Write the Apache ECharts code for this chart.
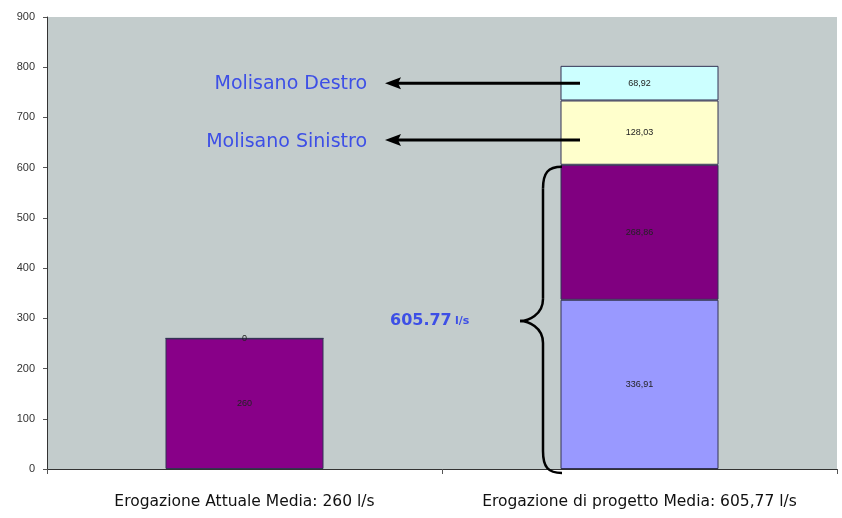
<!DOCTYPE html>
<html>
<head>
<meta charset="utf-8">
<script src="https://cdn.jsdelivr.net/npm/echarts@6/dist/echarts.min.js"></script>
<style>html,body{margin:0;padding:0;background:#fff}#c{width:842px;height:518px}</style>
</head>
<body>
<div id="c"></div>
<script>
var categories = ['Erogazione Attuale Media: 260 l/s', 'Erogazione di progetto Media: 605,77 l/s'];
var baseValues = [260, 336.91];
var secondValues = [0, 268.86];
var sinistroValues = [null, 128.03];
var destroValues = [null, 68.92];
var yTicks = [0, 100, 200, 300, 400, 500, 600, 700, 800, 900];

var baseColors = ['#880088', '#9999ff'];
var secondColors = ['#880088', '#800080'];

function mk(vals, colors) {
  return vals.map(function (v, i) {
    return { value: v === null ? '-' : v, itemStyle: { color: colors[i] } };
  });
}
var labelStyle = { show: true, position: 'inside', fontSize: 9, color: '#222', fontFamily: 'Liberation Sans', formatter: function (p) { return p.value === '-' ? '' : String(p.value).replace('.', ','); } };
var border = { borderColor: '#333355', borderWidth: 1 };

var chart = echarts.init(document.getElementById('c'));
chart.setOption({
  animation: false,
  backgroundColor: '#fff',
  grid: { left: 47, right: 5, top: 17, bottom: 49, show: true, backgroundColor: '#c3cccc', borderWidth: 0 },
  xAxis: {
    type: 'category', data: categories,
    axisLine: { lineStyle: { color: '#333', width: 1 } },
    axisTick: { show: true, interval: 0, alignWithLabel: false, length: 5, lineStyle: { color: '#555' } },
    axisLabel: { interval: 0, hideOverlap: false, fontSize: 15.5, color: '#111', fontFamily: 'DejaVu Sans', margin: 25 }
  },
  yAxis: {
    type: 'value', min: yTicks[0], max: yTicks[yTicks.length - 1], interval: 100,
    axisLine: { show: true, lineStyle: { color: '#333' } },
    axisTick: { show: true, length: 4, lineStyle: { color: '#555' } },
    splitLine: { show: false },
    axisLabel: { fontSize: 11, color: '#333', fontFamily: 'Liberation Sans', margin: 12 }
  },
  series: [
    { type: 'bar', stack: 't', barWidth: '40%', data: mk(baseValues, baseColors), itemStyle: border, label: labelStyle },
    { type: 'bar', stack: 't', data: mk(secondValues, secondColors), itemStyle: border, label: labelStyle },
    { type: 'bar', stack: 't', data: mk(sinistroValues, ['#ffffcc', '#ffffcc']), itemStyle: border, label: labelStyle },
    { type: 'bar', stack: 't', data: mk(destroValues, ['#ccffff', '#ccffff']), itemStyle: border, label: labelStyle }
  ]
});

// annotations anchored on the axis scale
var total = baseValues[1] + secondValues[1];
var yDestro = chart.convertToPixel({ yAxisIndex: 0 }, total + sinistroValues[1] + destroValues[1] / 2);
var ySin = chart.convertToPixel({ yAxisIndex: 0 }, 655);
var yTop = chart.convertToPixel({ yAxisIndex: 0 }, total);
var yZero = chart.convertToPixel({ yAxisIndex: 0 }, 0);
var yMid = chart.convertToPixel({ yAxisIndex: 0 }, total / 2) + 4;

var arrowX0 = 580, arrowX1 = 385;
function arrow(y) {
  return [
    { type: 'line', shape: { x1: arrowX0, y1: y, x2: arrowX1 + 12, y2: y }, style: { stroke: '#000', lineWidth: 3 }, z: 100 },
    { type: 'polygon', shape: { points: [[arrowX1, y], [arrowX1 + 16, y - 6], [arrowX1 + 13, y], [arrowX1 + 16, y + 6]] }, style: { fill: '#000' }, z: 100 }
  ];
}
var sx = 543, tipX = 520;
var t = yTop + 2, b = yZero + 4, m = yMid;
var bs = { stroke: '#000', lineWidth: 2.5, fill: null };
var braceParts = [
  { type: 'bezierCurve', shape: { x1: 562, y1: t, cpx1: 548, cpy1: t, cpx2: sx, cpy2: t + 6, x2: sx, y2: t + 22 }, style: bs, z: 100 },
  { type: 'line', shape: { x1: sx, y1: t + 22, x2: sx, y2: m - 22 }, style: bs, z: 100 },
  { type: 'bezierCurve', shape: { x1: sx, y1: m - 22, cpx1: sx, cpy1: m - 6, cpx2: tipX + 8, cpy2: m, x2: tipX, y2: m }, style: bs, z: 100 },
  { type: 'bezierCurve', shape: { x1: tipX, y1: m, cpx1: tipX + 8, cpy1: m, cpx2: sx, cpy2: m + 6, x2: sx, y2: m + 22 }, style: bs, z: 100 },
  { type: 'line', shape: { x1: sx, y1: m + 22, x2: sx, y2: b - 22 }, style: bs, z: 100 },
  { type: 'bezierCurve', shape: { x1: sx, y1: b - 22, cpx1: sx, cpy1: b - 6, cpx2: 548, cpy2: b, x2: 562, y2: b }, style: bs, z: 100 }
];

var blue = '#3d4fe6';
var g = [].concat(arrow(yDestro), arrow(ySin), braceParts, [
  { type: 'text', x: 367, y: yDestro + 1, style: { text: 'Molisano Destro', fill: blue, font: '19px "DejaVu Sans"', textAlign: 'right', textVerticalAlign: 'middle' }, z: 100 },
  { type: 'text', x: 367, y: ySin + 2, style: { text: 'Molisano Sinistro', fill: blue, font: '19px "DejaVu Sans"', textAlign: 'right', textVerticalAlign: 'middle' }, z: 100 },
  { type: 'text', x: 390, y: m, style: { text: '{a|605.77} {b|l/s}', fill: blue, textVerticalAlign: 'middle',
      rich: { a: { fontSize: 16, fontWeight: 'bold', fontFamily: 'DejaVu Sans', color: blue }, b: { fontSize: 11, fontFamily: 'DejaVu Sans', fontWeight: 'bold', color: blue } } }, z: 100 }
]);
chart.setOption({ graphic: g });
</script>
</body>
</html>
